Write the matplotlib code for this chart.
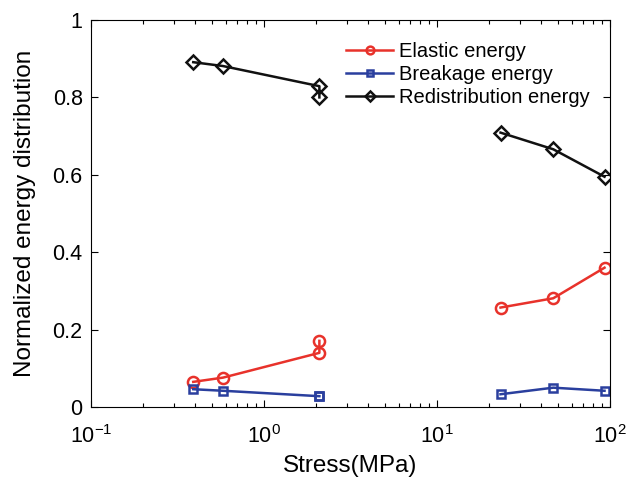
import matplotlib
matplotlib.use("Agg")
import matplotlib.pyplot as plt
import numpy as np

plt.rcParams['font.family'] = ['Liberation Sans', 'DejaVu Sans']
plt.rcParams['mathtext.fontset'] = 'custom'
plt.rcParams['mathtext.rm'] = 'Liberation Sans'

# low-stress group
stress_low = [0.39, 0.58, 2.09, 2.09]
elastic_low = [0.065, 0.076, 0.140, 0.171]
breakage_low = [0.046, 0.042, 0.028, 0.028]
redist_low = [0.891, 0.881, 0.829, 0.800]

# high-stress group
stress_high = [23.3, 47, 93]
elastic_high = [0.257, 0.281, 0.360]
breakage_high = [0.033, 0.050, 0.042]
redist_high = [0.709, 0.666, 0.595]

labels = ['Elastic energy', 'Breakage energy', 'Redistribution energy']
colors = ['#E8322B', '#2A3F9E', '#111111']
markers = ['o', 's', 'D']
msizes = [8, 5.5, 7]

fig = plt.figure(figsize=(6.28, 4.83), dpi=100)
ax = fig.add_axes([0.1449, 0.1573, 0.8264, 0.8013])

series_low = [elastic_low, breakage_low, redist_low]
series_high = [elastic_high, breakage_high, redist_high]
for lo, hi, lab, c, m, ms in zip(series_low, series_high, labels, colors, markers, msizes):
    ax.plot(stress_low, lo, color=c, lw=1.8, marker=m, ms=ms,
            mfc='none', mec=c, mew=1.8, label=lab)
    ax.plot(stress_high, hi, color=c, lw=1.8, marker=m, ms=ms,
            mfc='none', mec=c, mew=1.8)

ax.set_xscale('log')
ax.set_xlim(0.1, 100)
ax.set_ylim(0, 1)
ax.set_yticks([0, 0.2, 0.4, 0.6, 0.8, 1])
ax.set_yticklabels(['0', '0.2', '0.4', '0.6', '0.8', '1'])
ax.tick_params(which='both', direction='in', top=True, right=True, labelsize=15.5, width=0.8)
ax.tick_params(which='major', length=5)
ax.tick_params(which='minor', length=3)
ax.tick_params(axis='x', pad=13)
ax.tick_params(axis='y', pad=6)
for s in ax.spines.values():
    s.set_linewidth(0.8)

ax.set_xlabel('Stress(MPa)', fontsize=17.5, labelpad=5)
ax.set_ylabel('Normalized energy distribution', fontsize=17.5, labelpad=12)

ax.legend(loc='upper left', bbox_to_anchor=(0.472, 0.97), frameon=False, fontsize=14.5,
          handlelength=2.35, labelspacing=0.2, borderpad=0, handletextpad=0.3,
          markerscale=0.7)

fig.savefig('out.png', dpi=100)
